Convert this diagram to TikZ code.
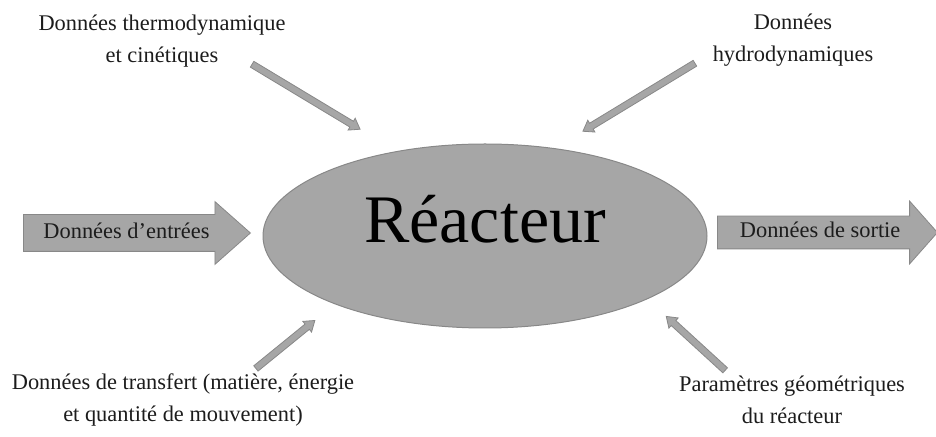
\documentclass[tikz,border=0pt]{standalone}
\usepackage{fontspec}
\setmainfont{Liberation Serif}
\usetikzlibrary{shapes.geometric,shapes.arrows,calc}
\definecolor{gris}{RGB}{166,166,166}
\definecolor{grisbord}{RGB}{136,136,136}
\definecolor{encre}{RGB}{28,28,28}
\tikzset{
	reacteur/.style={ellipse,fill=gris,draw=grisbord,line width=0.5pt,minimum width=222pt,minimum height=92pt,inner sep=0pt,text height=23pt,text depth=16pt,font=\fontsize{34}{40}\selectfont},
	fleche/.style={single arrow,fill=gris,draw=grisbord,line width=0.4pt,single arrow head indent=0pt,inner xsep=2pt,text height=8pt,text depth=2.5pt,text=encre,font=\fontsize{11.2}{16}\selectfont},
	legende/.style={align=center,inner sep=0pt,text=encre,font=\fontsize{11.2}{16}\selectfont},
	fleche fine/.style={single arrow,fill=gris,draw=grisbord,line width=0.4pt,inner xsep=0pt,inner ysep=1.5pt,text height=0pt,text depth=0pt,single arrow head indent=0pt,single arrow head extend=1.75pt,single arrow tip angle=70},
	flux/.style={to path={let \p1=($(\tikztotarget)-(\tikztostart)$),\n1={veclen(\x1,\y1)} in (\tikztostart) -- (\tikztotarget) node[midway,sloped,allow upside down,fleche fine,minimum height=\n1] {}}}
}
\begin{document}
\begin{tikzpicture}[x=0.5pt,y=-0.5pt]
		\useasboundingbox (0,0) rectangle (936,437);
		% reacteur
		\node[reacteur] (reac) at (485,236) {Réacteur};
		% entree et sortie
		\node[fleche,anchor=tail,minimum height=113.5pt,inner ysep=3.75pt,single arrow head extend=6.5pt,single arrow tip angle=83] (entree) at (23,233) {Données d’entrées};
		\node[fleche,anchor=tail,minimum height=110pt,inner ysep=2.75pt,single arrow head extend=7.5pt,single arrow tip angle=97] (sortie) at (717,232.5) {Données de sortie};
		% donnees autour du reacteur
		\node[legende] (thermo) at (162,41) {Données thermodynamique\\et cinétiques};
		\node[legende] (hydro) at (793,40) {Données\\hydrodynamiques};
		\node[legende] (transfert) at (183,400) {Données de transfert (matière, énergie\\et quantité de mouvement)};
		\node[legende] (geom) at (792,400) {Paramètres géométriques\\du réacteur};
		\coordinate (thermo-a) at (250,63);
		\coordinate (reac-a) at (358,128);
		\coordinate (hydro-a) at (697,62);
		\coordinate (reac-b) at (585,130);
		\coordinate (transfert-a) at (254,370);
		\coordinate (reac-c) at (313,322);
		\coordinate (geom-a) at (727,372);
		\coordinate (reac-d) at (668,318);
		\foreach \a/\b in {thermo-a/reac-a, hydro-a/reac-b, transfert-a/reac-c, geom-a/reac-d}
			\path[allow upside down] (\a) to[flux] (\b);
	\end{tikzpicture}
\end{document}
